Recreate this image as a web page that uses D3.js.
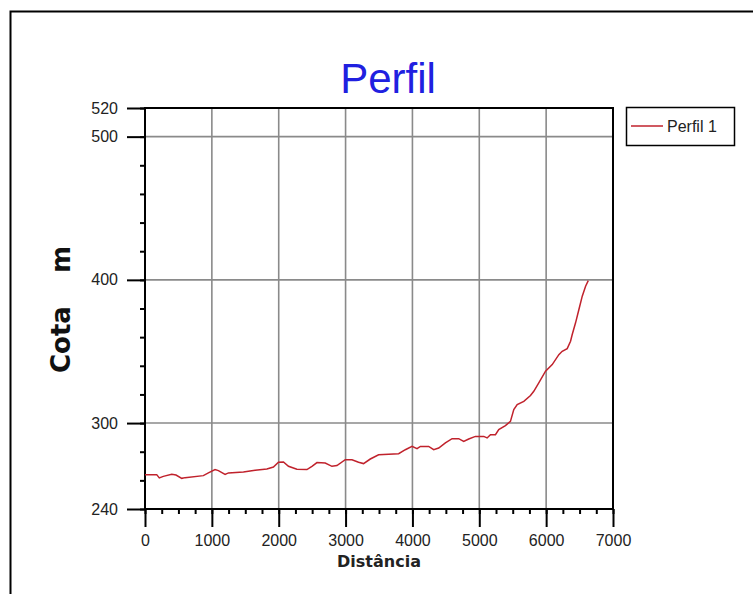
<!DOCTYPE html>
<html>
<head>
<meta charset="utf-8">
<script src="https://cdn.jsdelivr.net/npm/d3@7"></script>
<style>
  body { margin: 0; background: #fff; }
  .tick text { font-family: "Liberation Sans", Arial, sans-serif; font-size: 16px; fill: #222; }
</style>
</head>
<body>
<div id="chart"></div>
<script>
// profile data: distance (m) and elevation (m)
var distancia = [0, 175, 214, 274, 400, 464, 550, 599, 873, 948, 1048, 1098, 1198, 1248,
  1472, 1647, 1823, 1921, 1996, 2071, 2146, 2272, 2422, 2497, 2572, 2696, 2796, 2871,
  2995, 3096, 3194, 3269, 3370, 3494, 3794, 3894, 3994, 4069, 4119, 4243, 4318, 4393,
  4493, 4593, 4692, 4767, 4842, 4942, 5067, 5117, 5167, 5242, 5291, 5391, 5466, 5516,
  5567, 5666, 5766, 5815, 5890, 5991, 6091, 6190, 6240, 6315, 6365, 6390, 6440, 6490,
  6540, 6590, 6630];
var cota = [264, 264, 261.7, 262.8, 264.2, 263.7, 261.4, 261.9, 263.3, 265.2, 267.5, 266.8,
  264.2, 265.2, 265.9, 267, 268, 269.3, 272.6, 272.8, 269.8, 267.7, 267.5, 269.8, 272.4,
  272.1, 269.8, 270.3, 274.4, 274.4, 272.6, 271.7, 274.9, 277.9, 278.6, 281.4, 283.7,
  282.1, 283.7, 283.7, 281.4, 282.6, 286.1, 289.1, 289.1, 287.2, 288.9, 290.7, 290.7,
  289.6, 291.9, 291.9, 295.4, 298.2, 301.2, 309.4, 312.9, 315.2, 319.2, 322.2, 328,
  336.2, 340.8, 347.8, 350.1, 352, 357.1, 361.8, 370, 379.3, 388.6, 395.6, 399.5];

var xTicks = [0, 1000, 2000, 3000, 4000, 5000, 6000, 7000];
var yTicks = [240, 300, 400, 500, 520];
var yGrid = [300, 400, 500];
var serieNome = "Perfil 1";

var svgWidth = 753, svgHeight = 594;
var margin = {top: 108, right: 140, bottom: 85, left: 145};
var width = 613 - margin.left;
var height = 509 - margin.top;

var svg = d3.select("#chart").append("svg")
  .attr("width", svgWidth)
  .attr("height", svgHeight);

// outer frame
svg.append("rect")
  .attr("x", 10.5).attr("y", 11.5)
  .attr("width", 800).attr("height", 700)
  .attr("fill", "none").attr("stroke", "#000").attr("stroke-width", 2);

var g = svg.append("g")
  .attr("transform", `translate(${margin.left}, ${margin.top})`);

var x = d3.scaleLinear().domain([0, 7000]).range([0, width]);
var y = d3.scaleLinear().domain([240, 520]).range([height, 0]);

// grid
g.selectAll(".vgrid").data(xTicks.slice(1, -1)).enter().append("line")
  .attr("x1", d => x(d)).attr("x2", d => x(d))
  .attr("y1", 0).attr("y2", height)
  .attr("stroke", "#8a8a8a").attr("stroke-width", 1.6);
g.selectAll(".hgrid").data(yGrid).enter().append("line")
  .attr("x1", 0).attr("x2", width)
  .attr("y1", d => y(d)).attr("y2", d => y(d))
  .attr("stroke", "#8a8a8a").attr("stroke-width", 1.6);

// minor ticks
g.append("g")
  .attr("transform", `translate(0, ${height})`)
  .call(d3.axisBottom(x).tickValues(d3.range(0, 7001, 250)).tickSize(5).tickFormat(""))
  .call(a => a.select(".domain").remove())
  .call(a => a.selectAll("line").attr("stroke-width", 2));
g.append("g")
  .call(d3.axisLeft(y).tickValues(d3.range(240, 521, 20)).tickSize(5).tickFormat(""))
  .call(a => a.select(".domain").remove())
  .call(a => a.selectAll("line").attr("stroke-width", 2));

// major ticks + labels
g.append("g")
  .attr("transform", `translate(0, ${height})`)
  .call(d3.axisBottom(x).tickValues(xTicks).tickSize(18).tickPadding(8).tickFormat(d3.format("d")))
  .call(a => a.select(".domain").remove())
  .call(a => a.selectAll("line").attr("stroke-width", 2));
g.append("g")
  .call(d3.axisLeft(y).tickValues(yTicks).tickSize(18).tickPadding(9).tickFormat(d3.format("d")))
  .call(a => a.select(".domain").remove())
  .call(a => a.selectAll("line").attr("stroke-width", 2));

// plot frame
g.append("rect")
  .attr("x", 0).attr("y", 0).attr("width", width).attr("height", height)
  .attr("fill", "none").attr("stroke", "#000").attr("stroke-width", 2);

// profile line
var line = d3.line()
  .x((d, i) => x(distancia[i]))
  .y(d => y(d));
g.append("path")
  .datum(cota)
  .attr("d", line)
  .attr("fill", "none")
  .attr("stroke", "#c0222c")
  .attr("stroke-width", 1.5);

// title
svg.append("text")
  .attr("x", 388).attr("y", 93)
  .attr("text-anchor", "middle")
  .style("font-family", "Liberation Sans, Arial, sans-serif")
  .style("font-size", "42px")
  .attr("fill", "#2020e0")
  .text("Perfil");

// axis titles
g.append("text")
  .attr("x", width / 2).attr("y", height + 58)
  .attr("text-anchor", "middle")
  .style("font-family", "DejaVu Sans, sans-serif")
  .style("font-size", "16px").style("font-weight", "bold")
  .attr("fill", "#222")
  .text("Distância");

svg.append("text")
  .attr("transform", "translate(70, 373) rotate(-90)")
  .style("font-family", "DejaVu Sans, sans-serif")
  .style("font-size", "26px").style("font-weight", "bold")
  .attr("fill", "#111")
  .text("Cota");
svg.append("text")
  .attr("transform", "translate(70, 273) rotate(-90)")
  .style("font-family", "DejaVu Sans, sans-serif")
  .style("font-size", "26px").style("font-weight", "bold")
  .attr("fill", "#111")
  .text("m");

// legend
var legend = svg.append("g").attr("transform", "translate(626, 107)");
legend.append("rect")
  .attr("x", 0.5).attr("y", 0.5).attr("width", 108).attr("height", 38)
  .attr("fill", "#fff").attr("stroke", "#000").attr("stroke-width", 1.5);
legend.append("line")
  .attr("x1", 5).attr("x2", 37).attr("y1", 19).attr("y2", 19)
  .attr("stroke", "#c0222c").attr("stroke-width", 1.5);
legend.append("text")
  .attr("x", 41).attr("y", 25)
  .style("font-family", "Liberation Sans, Arial, sans-serif")
  .style("font-size", "16px")
  .attr("fill", "#222")
  .text(serieNome);
</script>
</body>
</html>
